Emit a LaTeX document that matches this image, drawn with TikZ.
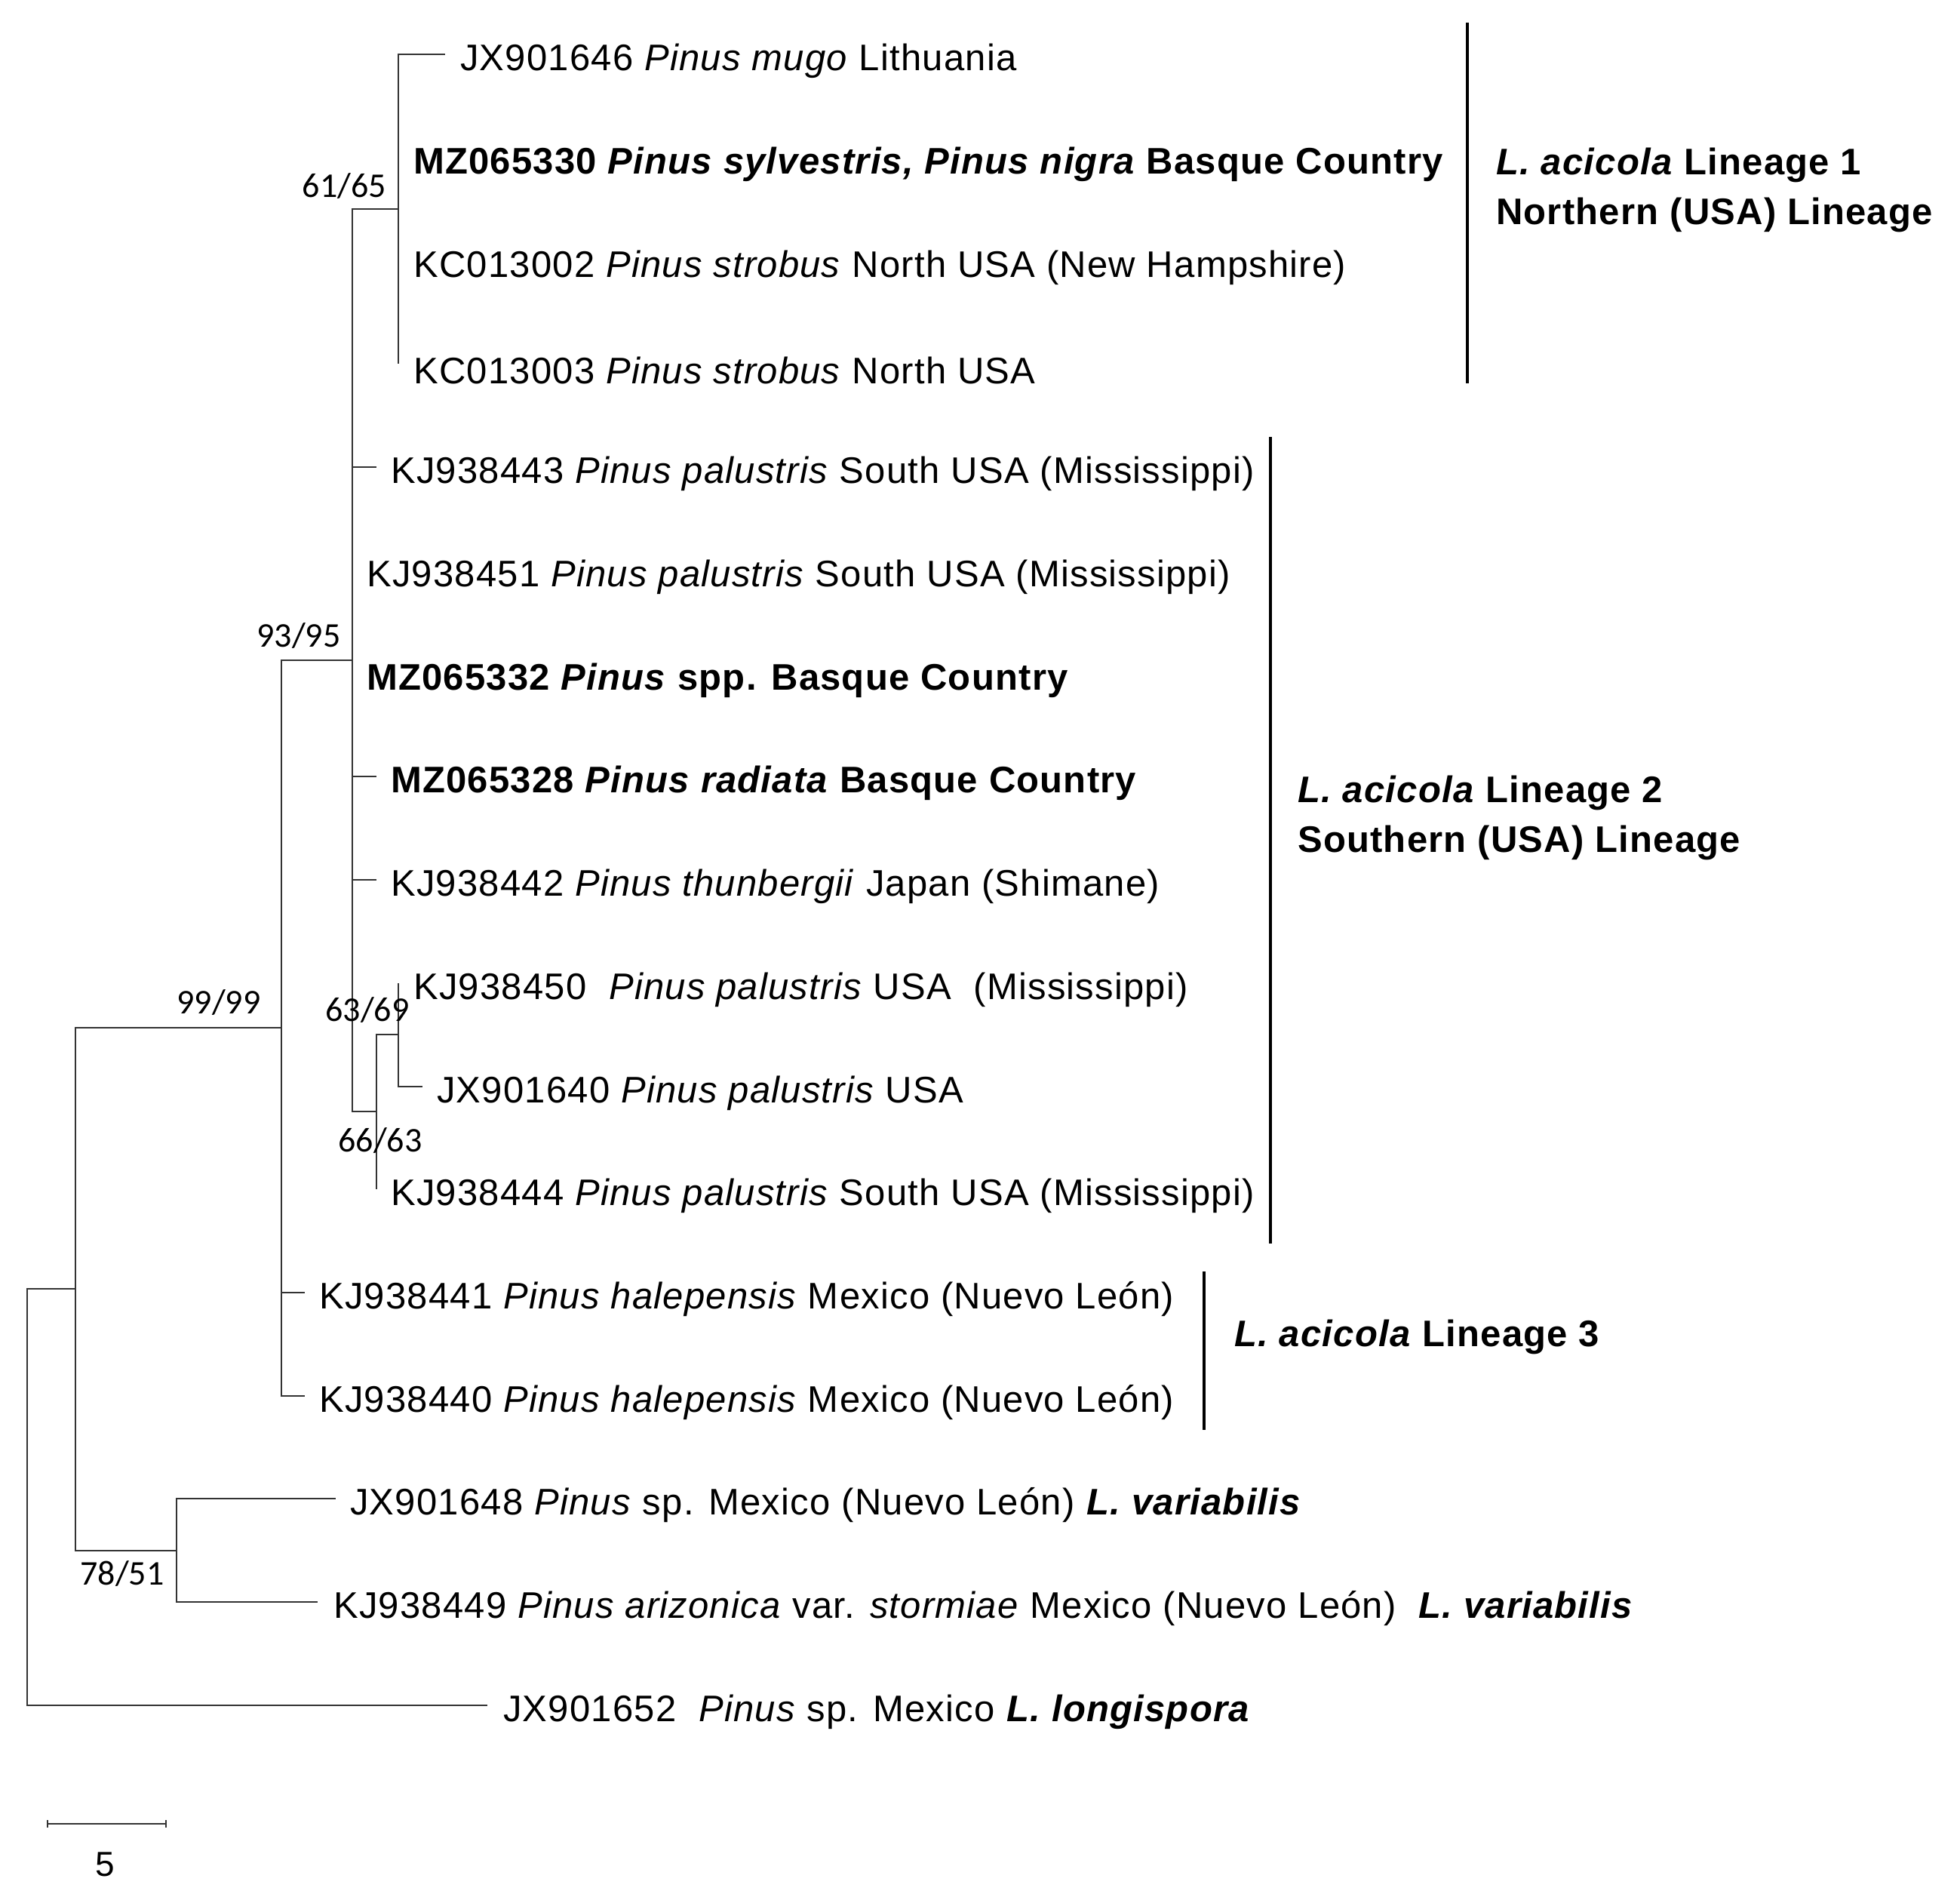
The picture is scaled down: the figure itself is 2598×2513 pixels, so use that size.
\documentclass[tikz,border=0pt]{standalone}
\usepackage{fontspec}
\setmainfont{Liberation Sans}[LetterSpace=2.5]
\newfontfamily\supfont{Carlito}
\begin{document}
\begin{tikzpicture}[x=1pt,y=-1pt,
  br/.style={line width=2.6pt,color=black!80},
  bar/.style={line width=4pt},
  lab/.style={anchor=west,inner sep=0pt,yshift=-9pt,font=\fontsize{49}{58}\selectfont},
  sup/.style={inner sep=0pt,font=\supfont\fontsize{46}{55}\selectfont},
  clade/.style={anchor=west,inner sep=0pt,align=left,font=\fontsize{49}{66}\selectfont\bfseries}]
\useasboundingbox (0,0) rectangle (2598,2513);
% internal nodes
\coordinate (R) at (36,1984);
\coordinate (A) at (100,1708);
\coordinate (N78) at (234,2055);
\coordinate (N93) at (373,1362);
\coordinate (B) at (467,875);
\coordinate (N61) at (528,277);
\coordinate (N66) at (499,1473);
\coordinate (N63) at (528,1371);
% leaf tips
\coordinate (L1) at (590,72);
\coordinate (L2) at (528,209);
\coordinate (L3) at (528,346);
\coordinate (L4) at (528,482);
\coordinate (L5) at (499,619);
\coordinate (L6) at (467,756);
\coordinate (L7) at (467,893);
\coordinate (L8) at (499,1029);
\coordinate (L9) at (499,1166);
\coordinate (L10) at (528,1303);
\coordinate (L11) at (560,1440);
\coordinate (L12) at (499,1576);
\coordinate (L13) at (404,1713);
\coordinate (L14) at (404,1850);
\coordinate (L15) at (445,1986);
\coordinate (L16) at (421,2123);
\coordinate (L17) at (646,2260);
% branches
\draw[br] (R) |- (A); \draw[br] (R) |- (L17);
\draw[br] (A) |- (N93); \draw[br] (A) |- (N78);
\draw[br] (N78) |- (L15); \draw[br] (N78) |- (L16);
\draw[br] (N93) |- (B); \draw[br] (N93) |- (L13); \draw[br] (N93) |- (L14);
\draw[br] (B) |- (N61); \draw[br] (B) |- (L5); \draw[br] (B) |- (L6);
\draw[br] (B) |- (L7); \draw[br] (B) |- (L8); \draw[br] (B) |- (L9); \draw[br] (B) |- (N66);
\draw[br] (N61) |- (L1); \draw[br] (N61) |- (L2); \draw[br] (N61) |- (L3); \draw[br] (N61) |- (L4);
\draw[br] (N66) |- (N63); \draw[br] (N66) |- (L12);
\draw[br] (N63) |- (L10); \draw[br] (N63) |- (L11);
% leaf labels
\node[lab] (t1) at ([xshift=20pt]L1) {JX901646 \textit{Pinus mugo} Lithuania};
\node[lab] (t2) at ([xshift=20pt]L2) {\bfseries MZ065330 \textit{Pinus sylvestris, Pinus nigra} Basque Country};
\node[lab] (t3) at ([xshift=20pt]L3) {KC013002 \textit{Pinus strobus} North USA (New Hampshire)};
\node[lab] (t4) at ([xshift=20pt]L4) {KC013003 \textit{Pinus strobus} North USA};
\node[lab] (t5) at ([xshift=19pt]L5) {KJ938443 \textit{Pinus palustris} South USA (Mississippi)};
\node[lab] (t6) at ([xshift=19pt]L6) {KJ938451 \textit{Pinus palustris} South USA (Mississippi)};
\node[lab] (t7) at ([xshift=19pt]L7) {\bfseries MZ065332 \textit{Pinus} spp. Basque Country};
\node[lab] (t8) at ([xshift=19pt]L8) {\bfseries MZ065328 \textit{Pinus radiata} Basque Country};
\node[lab] (t9) at ([xshift=19pt]L9) {KJ938442 \textit{Pinus thunbergii} Japan (Shimane)};
\node[lab] (t10) at ([xshift=20pt]L10) {KJ938450\ \ \textit{Pinus palustris} USA\ \ (Mississippi)};
\node[lab] (t11) at ([xshift=19pt]L11) {JX901640 \textit{Pinus palustris} USA};
\node[lab] (t12) at ([xshift=19pt]L12) {KJ938444 \textit{Pinus palustris} South USA (Mississippi)};
\node[lab] (t13) at ([xshift=19pt]L13) {KJ938441 \textit{Pinus halepensis} Mexico (Nuevo León)};
\node[lab] (t14) at ([xshift=19pt]L14) {KJ938440 \textit{Pinus halepensis} Mexico (Nuevo León)};
\node[lab] (t15) at ([xshift=19pt]L15) {JX901648 \textit{Pinus} sp. Mexico (Nuevo León) \textbf{\textit{L. variabilis}}};
\node[lab] (t16) at ([xshift=21pt]L16) {KJ938449 \textit{Pinus arizonica} var. \textit{stormiae} Mexico (Nuevo León)\ \ \textbf{\textit{L. variabilis}}};
\node[lab] (t17) at ([xshift=21pt]L17) {JX901652\ \ \textit{Pinus} sp. Mexico \textbf{\textit{L. longispora}}};
% support values
\node[sup,anchor=south east] (s61) at (512,264) {61/65};
\node[sup,anchor=south] (s93) at (396,860) {93/95};
\node[sup,anchor=south] (s99) at (290,1346) {99/99};
\node[sup,anchor=south] (s63) at (487,1356) {63/69};
\node[sup,anchor=north] (s66) at (504,1494) {66/63};
\node[sup,anchor=north] (s78) at (162,2068) {78/51};
% clade bars
\draw[bar] (1945,30) coordinate (c1a) -- (1945,508) coordinate (c1b);
\draw[bar] (1684,579) coordinate (c2a) -- (1684,1648) coordinate (c2b);
\draw[bar] (1596,1685) coordinate (c3a) -- (1596,1895) coordinate (c3b);
\node[clade] (k1) at (1983,252) {\textit{L. acicola} Lineage 1\\Northern (USA) Lineage};
\node[clade] (k2) at (1720,1084) {\textit{L. acicola} Lineage 2\\Southern (USA) Lineage};
\node[clade] (k3) at (1636,1772) {\textit{L. acicola} Lineage 3};
% scale bar
\coordinate (sb1) at (63,2417); \coordinate (sb2) at (220,2417);
\draw[br] (sb1) -- (sb2);
\draw[br] ([yshift=-5pt]sb1) -- ([yshift=5pt]sb1);
\draw[br] ([yshift=-5pt]sb2) -- ([yshift=5pt]sb2);
\node[sup,anchor=north,font=\fontsize{46}{55}\selectfont] (sb) at (139,2455) {5};
\end{tikzpicture}
\end{document}
